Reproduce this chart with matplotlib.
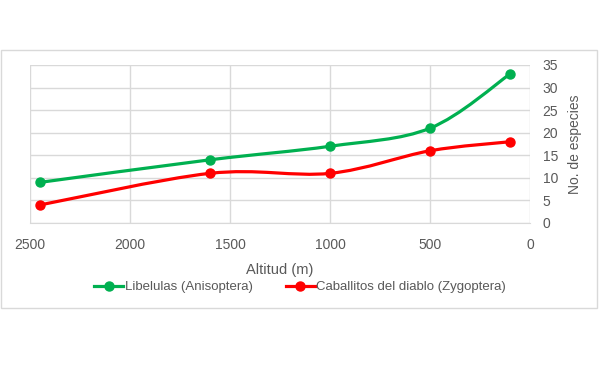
import matplotlib
matplotlib.use("Agg")
import matplotlib.pyplot as plt
from matplotlib.path import Path
from matplotlib.patches import PathPatch, Rectangle
from matplotlib.lines import Line2D
import numpy as np

altitude = [2450, 1600, 1000, 500, 100]
libelulas = [9, 14, 17, 21, 33]
caballitos = [4, 11, 11, 16, 18]
series_names = ["Libelulas (Anisoptera)", "Caballitos del diablo (Zygoptera)"]
x_ticks = [2500, 2000, 1500, 1000, 500, 0]
y_ticks = [0, 5, 10, 15, 20, 25, 30, 35]

GREEN = "#00B050"
RED = "#FF0000"
TXT = "#595959"
GRID = "#D9D9D9"
plt.rcParams['font.family'] = ['Liberation Sans', 'DejaVu Sans']

fig = plt.figure(figsize=(6, 3.75), dpi=100)
fig.patch.set_facecolor("white")
fig.patches.append(Rectangle((1/600, 1 - 308/375), 596/600, 258/375, transform=fig.transFigure,
                             fill=False, edgecolor=GRID, lw=1))
ax = fig.add_axes([30/600, 1 - 223/375, 500/600, 158/375])


def smooth_path(xs, ys):
    pts = np.column_stack([xs, ys]).astype(float)
    n = len(pts)
    verts = [pts[0]]
    codes = [Path.MOVETO]
    for i in range(n - 1):
        p0 = pts[i - 1] if i > 0 else pts[i]
        p1 = pts[i]
        p2 = pts[i + 1]
        p3 = pts[i + 2] if i + 2 < n else pts[i + 1]
        c1 = p1 + (p2 - p0) / 6
        c2 = p2 - (p3 - p1) / 6
        verts += [c1, c2, p2]
        codes += [Path.CURVE4] * 3
    return Path(verts, codes)


for ys, col in [(libelulas, GREEN), (caballitos, RED)]:
    ax.add_patch(PathPatch(smooth_path(altitude, ys), fill=False, edgecolor=col, lw=2.3,
                           capstyle="round", zorder=3))
    ax.plot(altitude, ys, linestyle="none", marker="o", markersize=6.5, color=col, zorder=4)

ax.set_xlim(2500, 0)
ax.set_ylim(0, 35)
ax.set_xticks(x_ticks)
ax.set_yticks(y_ticks)
ax.yaxis.tick_right()
ax.yaxis.set_label_position("right")
ax.grid(True, color=GRID, lw=1)
ax.set_axisbelow(True)
for s in ax.spines.values():
    s.set_visible(False)
ax.spines["bottom"].set_visible(True)
ax.spines["bottom"].set_color(GRID)
ax.tick_params(length=0, colors=TXT, labelsize=10)
ax.tick_params(axis="x", pad=11)
ax.tick_params(axis="y", pad=9)
ax.set_xlabel("Altitud (m)", color=TXT, fontsize=10.5, labelpad=8)
ax.set_ylabel("No. de especies", color=TXT, fontsize=10, labelpad=7)

handles = [Line2D([], [], color=GREEN, lw=2.3, marker="o", markersize=6.5),
           Line2D([], [], color=RED, lw=2.3, marker="o", markersize=6.5)]
leg = fig.legend(handles, series_names, loc="center", bbox_to_anchor=(300/600, 1 - 287/375),
                 ncol=2, frameon=False, fontsize=9.5, handlelength=2.2, handletextpad=0.1,
                 columnspacing=2.5, labelcolor=TXT)

fig.savefig("out.png", dpi=100, facecolor="white")
